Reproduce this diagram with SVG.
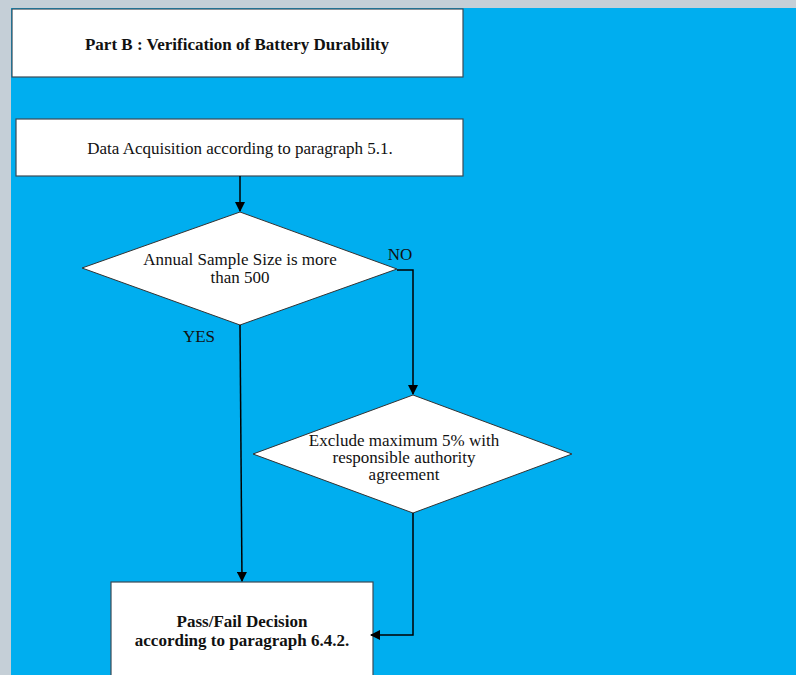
<svg xmlns="http://www.w3.org/2000/svg" width="796" height="675" viewBox="0 0 796 675">
<defs>
<style>
.box{fill:#fff;stroke:#3b4a55;stroke-width:1.2}
.dia{fill:#fff;stroke:#333;stroke-width:1}
.t{font-family:"Liberation Serif","Times New Roman",serif;font-size:17px;fill:#111;text-anchor:middle}
.b{font-weight:bold}
.c{fill:none;stroke:#000;stroke-width:1.5}
</style>
<marker id="ah" markerWidth="10" markerHeight="10" refX="9" refY="5" orient="auto" markerUnits="userSpaceOnUse">
<path d="M0,0 L10,5 L0,10 Z" fill="#000"/>
</marker>
</defs>
<rect x="0" y="0" width="796" height="675" fill="#C5CFD7"/>
<rect x="11" y="8" width="785" height="667" fill="#00AEEF"/>
<g id="title">
<rect class="box" x="12" y="9" width="451" height="68"/>
<text class="t b" x="237" y="50">Part B : Verification of Battery Durability</text>
</g>
<g id="data">
<rect class="box" x="16" y="119" width="447" height="57"/>
<text class="t" x="240" y="154">Data Acquisition according to paragraph 5.1.</text>
</g>
<g id="decision1">
<polygon class="dia" points="240,212 397,269 240,325 82,268"/>
<text class="t" x="240" y="265">Annual Sample Size is more</text>
<text class="t" x="240" y="283">than 500</text>
</g>
<g id="decision2">
<polygon class="dia" points="413,395 572,454 413,513 253,454"/>
<text class="t" x="404" y="446">Exclude maximum 5% with</text>
<text class="t" x="404" y="463">responsible authority</text>
<text class="t" x="404" y="480">agreement</text>
</g>
<g id="passfail">
<rect class="box" x="111" y="582" width="262" height="100"/>
<text class="t b" x="242" y="627">Pass/Fail Decision</text>
<text class="t b" x="242" y="646">according to paragraph 6.4.2.</text>
</g>
<g id="connectors">
<line class="c" x1="240" y1="176" x2="240" y2="211" marker-end="url(#ah)"/>
<polyline class="c" points="397,270 413,270 413,394" marker-end="url(#ah)"/>
<line class="c" x1="240" y1="325" x2="242" y2="581" marker-end="url(#ah)"/>
<polyline class="c" points="413,513 413,635 371,635" marker-end="url(#ah)"/>
<text class="t" x="400" y="260">NO</text>
<text class="t" x="199" y="342">YES</text>
</g>
</svg>
